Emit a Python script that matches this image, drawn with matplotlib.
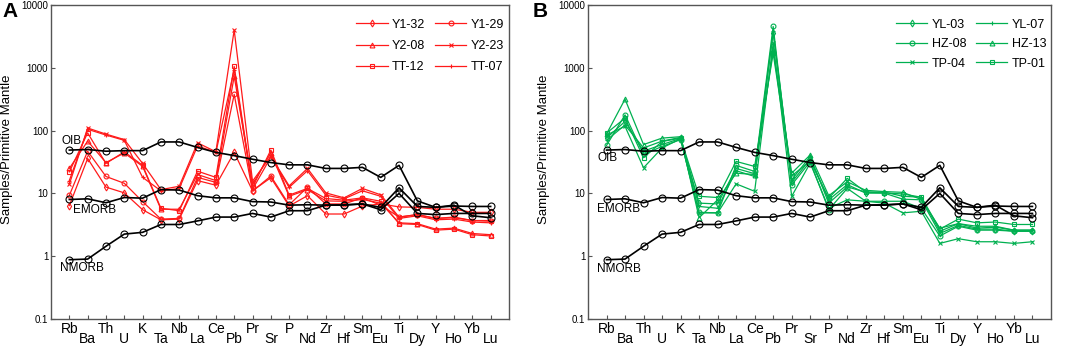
# spider_pm.py

import matplotlib
matplotlib.use("Agg")
import matplotlib.pyplot as plt


plt.rcParams["font.family"] = ["Liberation Sans", "DejaVu Sans"]


# 원소 순서

ELEMENTS = ["Rb", "Ba", "Th", "U", "K", "Ta", "Nb", "La", "Ce", "Pb", "Pr", "Sr",
            "P", "Nd", "Zr", "Hf", "Sm", "Eu", "Ti", "Dy", "Y", "Ho", "Yb", "Lu"]

# 기준선 (Primitive Mantle 규격화)
OIB = [49, 50, 47, 48, 48, 66, 66, 54, 45, 40, 35, 31,
       28.5, 28.5, 25, 25, 26, 18, 28, 7.6, 6.0, 6.5, 4.4, 4.1]
EMORB = [8.0, 8.2, 7.1, 8.6, 8.4, 11.5, 11.3, 9.2, 8.5, 8.5, 7.4, 7.3,
         6.5, 6.6, 6.5, 6.6, 6.8, 5.5, 10, 4.8, 4.6, 4.8, 4.8, 4.8]
NMORB = [0.88, 0.9, 1.44, 2.25, 2.4, 3.2, 3.2, 3.65, 4.2, 4.2, 4.8, 4.2,
         5.3, 5.3, 6.5, 6.5, 6.8, 6.0, 12.3, 6.2, 6.0, 6.3, 6.2, 6.2]

# A: 적색 시료
A_NAMES = ["Y1-32", "Y1-29", "Y2-08", "Y2-23", "TT-12", "TT-07"]
A_MARKERS = ["d", "o", "^", "x", "s", "+"]
Y1_32 = [6.4, 36, 12.6, 10.2, 5.5, 3.8, 3.9, 16, 13.5, 45, 11, 17.8,
         6.3, 9.2, 4.7, 4.7, 6.3, 6.8, 6.1, 6.0, 5.6, 5.6, 5.0, 5.0]
Y1_29 = [9.3, 47, 18.6, 14.5, 7.4, 3.9, 4.0, 18, 15, 377, 10.9, 18.9,
         6.6, 12.5, 6.8, 6.8, 8.5, 6.5, 4.2, 4.6, 4.0, 4.2, 3.7, 3.7]
Y2_08 = [25, 68, 31, 44, 27, 5.6, 5.6, 20, 16, 735, 13.9, 44,
         9.0, 11.5, 7.6, 7.5, 8.0, 7.0, 3.4, 3.3, 2.7, 2.8, 2.3, 2.2]
Y2_23 = [14, 110, 88, 72, 30, 11.5, 13, 64, 46, 4000, 15.7, 39,
         13.2, 25, 10.2, 8.5, 12, 9.5, 4.2, 4.6, 4.0, 4.1, 3.7, 3.6]
TT_12 = [22, 92, 30, 46, 28, 5.8, 5.3, 22.6, 18, 1050, 12.5, 49,
         9.4, 12, 8.3, 7.8, 8.5, 7.5, 3.3, 3.2, 2.6, 2.7, 2.2, 2.1]
TT_07 = [16, 105, 85, 70, 18, 11, 12, 57, 45, 940, 11.6, 38,
         12.5, 23, 9.4, 8.2, 11, 9.0, 4.0, 4.4, 3.8, 3.9, 3.5, 3.4]
A_VALUES = [Y1_32, Y1_29, Y2_08, Y2_23, TT_12, TT_07]

# B: 녹색 시료
B_NAMES = ["YL-03", "YL-07", "HZ-08", "HZ-13", "TP-04", "TP-01"]
B_MARKERS = ["d", "+", "o", "^", "x", "s"]
YL_03 = [76, 140, 47, 60, 75, 7.0, 6.8, 25, 20.6, 3600, 15, 35,
         7.9, 13.8, 10.1, 10.1, 8.1, 7.9, 2.3, 3.1, 2.7, 2.7, 2.5, 2.5]
YL_07 = [70, 123, 53, 68, 78, 6.2, 5.8, 23, 18.6, 3800, 16.5, 38.8,
         7.0, 12.7, 10.5, 10.5, 9.0, 8.7, 2.5, 3.3, 2.8, 2.9, 2.6, 2.6]
HZ_08 = [58, 178, 41.7, 56, 72, 5.0, 4.9, 27.9, 22.4, 4550, 13.7, 32,
         5.5, 12.0, 7.5, 7.5, 7.5, 5.8, 2.1, 3.0, 2.6, 2.6, 2.5, 2.5]
HZ_13 = [88, 317, 60, 76, 80, 4.1, 7.9, 21, 20, 1950, 21, 41,
         9.2, 15.3, 11.2, 10.7, 10.4, 8.0, 2.8, 3.3, 3.0, 3.0, 2.6, 2.6]
TP_04 = [85, 117, 25.6, 53, 74, 4.9, 4.9, 14.2, 10.8, 2500, 9.0, 30.4,
         5.8, 7.9, 7.5, 7.0, 4.9, 5.2, 1.6, 1.9, 1.7, 1.7, 1.6, 1.7]
TP_01 = [91, 158, 37, 67, 76, 9.0, 8.6, 32.3, 26.9, 1700, 19, 33,
         8.4, 17.4, 10.5, 10.2, 9.8, 8.7, 2.7, 3.9, 3.4, 3.5, 3.2, 3.2]
B_VALUES = [YL_03, YL_07, HZ_08, HZ_13, TP_04, TP_01]

Y_TICKS = [0.1, 1, 10, 100, 1000, 10000]
Y_TICK_LABELS = ["0.1", "1", "10", "100", "1000", "10000"]

RED = "#ff1a1a"
GREEN = "#00b050"


def draw_panel(ax, names, markers, values, color, ref_text_pos, leg_spacing):
    x = list(range(len(ELEMENTS)))
    handles = []

    for name, marker, vals in zip(names, markers, values):
        h, = ax.plot(x, vals, color=color, lw=0.9, marker=marker, ms=3.5,
                     mfc="none", mew=0.8, label=name, zorder=2)
        handles.append(h)

    # 기준선
    for ref in [OIB, EMORB, NMORB]:
        ax.plot(x, ref, color="black", lw=1.2, marker="o", ms=5,
                mfc="none", mew=0.8, zorder=3)

    for label, (tx, ty) in ref_text_pos.items():
        ax.text(tx, ty, label, fontsize=8.5, va="center", ha="left", zorder=4)

    ax.set_yscale("log")
    ax.set_ylim(0.1, 10000)
    ax.set_xlim(-1, 24)
    ax.set_yticks(Y_TICKS)
    ax.set_yticklabels(Y_TICK_LABELS)
    ax.minorticks_off()

    # 엇갈린 원소 라벨
    ax.set_xticks(x[0::2])
    ax.set_xticklabels(ELEMENTS[0::2])
    ax.set_xticks(x[1::2], minor=True)
    ax.set_xticklabels(ELEMENTS[1::2], minor=True)
    ax.tick_params(axis="x", which="major", direction="in", length=3, pad=2,
                   labelsize=10, width=0.8, color="#555555")
    ax.tick_params(axis="x", which="minor", direction="in", length=3, pad=9.3,
                   labelsize=10, width=0.8, color="#555555")
    ax.tick_params(axis="y", direction="in", length=3, pad=2, labelsize=7,
                   width=0.8, color="#555555")

    for sp in ax.spines.values():
        sp.set_color("#555555")
        sp.set_linewidth(1.0)

    ax.set_ylabel("Samples/Primitive Mantle", fontsize=9.5)
    ax.yaxis.set_label_coords(-0.083, 0.54)

    order = [0, 2, 4, 1, 3, 5]
    leg = ax.legend([handles[i] for i in order], [names[i] for i in order],
                    ncol=2, loc="upper right", bbox_to_anchor=(0.995, 0.965),
                    frameon=False, fontsize=9, numpoints=1, handlelength=2.5,
                    handletextpad=0.35, columnspacing=0.8, labelspacing=leg_spacing,
                    borderpad=0.2, borderaxespad=0)
    return leg


def main():
    fig = plt.figure(figsize=(10.65, 3.46), dpi=100)

    ax_a = fig.add_axes([0.0479, 0.078, 0.430, 0.9075])
    ax_b = fig.add_axes([0.5521, 0.078, 0.4347, 0.9075])

    draw_panel(ax_a, A_NAMES, A_MARKERS, A_VALUES, RED,
               {"OIB": (-0.45, 68), "EMORB": (0.2, 5.4), "NMORB": (-0.5, 0.64)}, 0.75)
    draw_panel(ax_b, B_NAMES, B_MARKERS, B_VALUES, GREEN,
               {"OIB": (-0.5, 37), "EMORB": (-0.5, 5.6), "NMORB": (-0.5, 0.62)}, 0.6)

    fig.text(0.002, 0.995, "A", fontsize=15, fontweight="bold", va="top", ha="left")
    fig.text(0.5005, 0.995, "B", fontsize=15, fontweight="bold", va="top", ha="left")

    fig.savefig("out.png", dpi=100)


if __name__ == "__main__":
    main()
